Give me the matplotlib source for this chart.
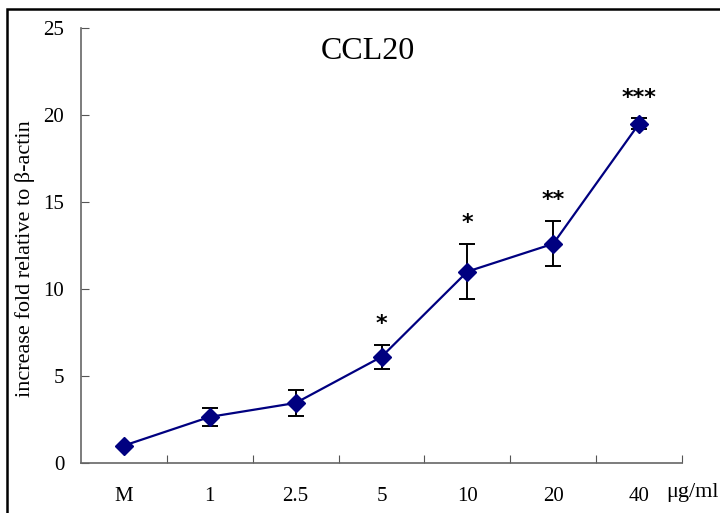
import matplotlib
matplotlib.use("Agg")
import matplotlib.pyplot as plt
from matplotlib.patches import Rectangle

categories = ["M", "1", "2.5", "5", "10", "20", "40"]
means = [1.0, 2.65, 3.45, 6.1, 11.0, 12.6, 19.5]
errors = [0.0, 0.5, 0.75, 0.7, 1.6, 1.3, 0.3]
stars = ["", "", "", "*", "*", "**", "***"]
yticks = [0, 5, 10, 15, 20, 25]

plt.rcParams['font.family'] = ['Liberation Serif', 'DejaVu Serif']

fig = plt.figure(figsize=(7.2, 5.13), dpi=100)
ax = fig.add_axes([81/720, 50/513, 601/720, 435/513])

x = list(range(len(categories)))
ax.errorbar(x, means, yerr=errors, fmt='none', ecolor='black', elinewidth=1.4,
            capsize=6, capthick=1.4, zorder=2)
ax.plot(x, means, color='#000080', lw=1.6, marker='D', markersize=9,
        markerfacecolor='#000080', markeredgecolor='#000080', zorder=3)

for xi, m, e, s in zip(x, means, errors, stars):
    if s:
        ax.text(xi, m + e + 1.2, s, ha='center', va='center', fontsize=16,
                family='DejaVu Sans', fontweight='bold', color='black')

ax.set_xlim(-0.5, len(categories) - 0.5)
ax.set_ylim(0, 25)
ax.set_yticks(yticks)
ax.set_yticklabels([str(t) for t in yticks], fontsize=15)
ax.set_xticks([i + 0.5 for i in range(len(categories))])
ax.set_xticklabels([])
ax.set_xticks(x, minor=True)
ax.set_xticklabels(categories, minor=True, fontsize=15)
ax.tick_params(axis='x', which='minor', length=0, pad=17)
ax.tick_params(axis='x', which='major', direction='in', length=6, color='#555555')
ax.tick_params(axis='y', direction='in', length=6, color='#555555', pad=12)

for side in ['top', 'right']:
    ax.spines[side].set_visible(False)
for side in ['left', 'bottom']:
    ax.spines[side].set_color('#666666')
    ax.spines[side].set_linewidth(1.2)

ax.set_ylabel("increase fold relative to β-actin", fontsize=16)
ax.yaxis.set_label_coords((35 - 81) / 601, 0.47)
ax.text((368 - 81) / 601, 0.945, "CCL20", transform=ax.transAxes, ha='center',
        va='center', fontsize=23)
fig.text(692/720, 1 - 493/513, "μg/ml", ha='center', va='center', fontsize=16)

fig.patches.append(Rectangle((7/720, -0.05), 1.2, 1 - 9/513 + 0.05,
                             transform=fig.transFigure, fill=False,
                             edgecolor='black', linewidth=1.8))

fig.savefig("out.png", dpi=100)
